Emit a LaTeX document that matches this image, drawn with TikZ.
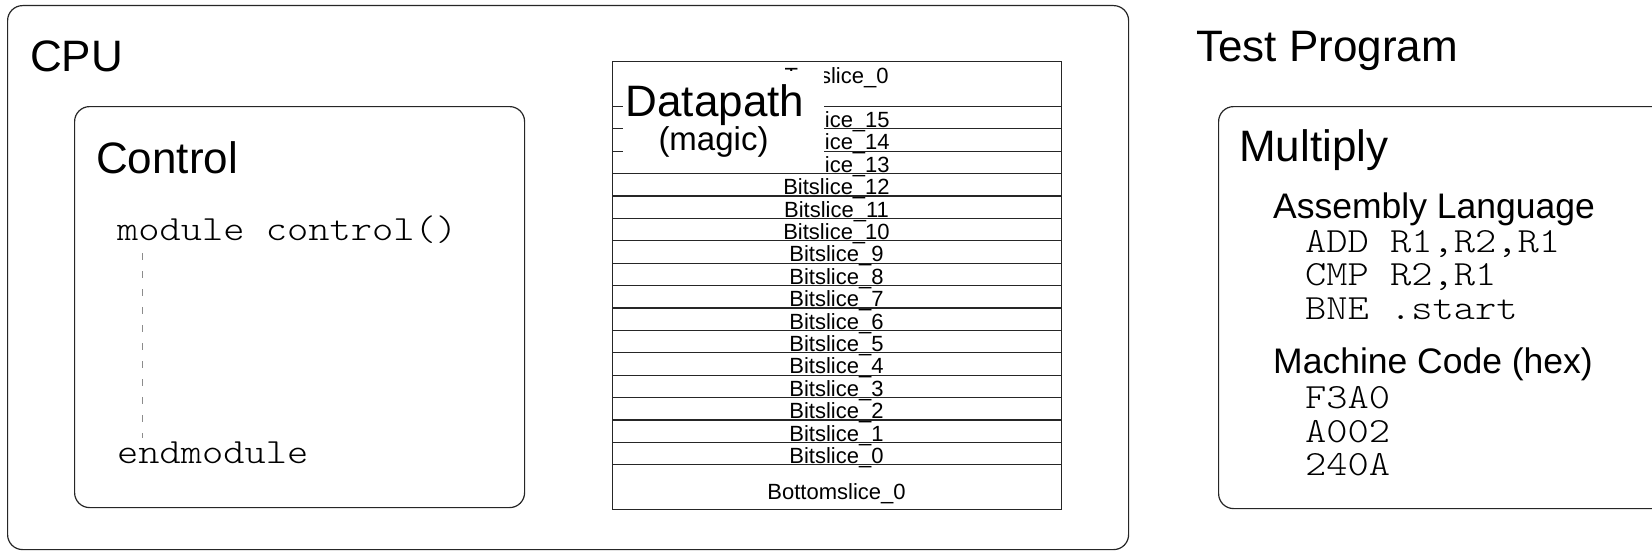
\documentclass[tikz,border=0pt]{standalone}
\usepackage{fontspec}
\setmainfont{Liberation Sans}
\setmonofont[FakeStretch=1.143]{Latin Modern Mono Light}
\begin{document}
\begin{tikzpicture}[x=1pt,y=-1pt,
  roundbox/.style={draw=black!85, line width=1.2pt, rounded corners=15pt, inner sep=0pt, anchor=north west},
  slicebox/.style={draw=black!85, line width=1.1pt, inner sep=0pt, anchor=north west, minimum width=449pt},
  titletxt/.style={anchor=base west, inner sep=0pt, font=\fontsize{44}{50}\selectfont},
  subtxt/.style={anchor=base west, inner sep=0pt, font=\fontsize{35.5}{40}\selectfont},
  codetxt/.style={anchor=base west, inner sep=0pt, font=\ttfamily\fontsize{35.4}{40}\selectfont},
  slicelbl/.style={anchor=base, inner sep=0pt, font=\fontsize{22}{26}\selectfont},
  dashline/.style={draw=black!45, line width=1pt, dash pattern=on 7pt off 11pt}
]
\fill[white] (0,0) rectangle (1652,551);
\clip (0,0) rectangle (1652,551);

% CPU
\node[roundbox, minimum width=1121pt, minimum height=544pt] (cpu) at (7,5) {};
\node[titletxt] (cputitle) at (30,72) {CPU};

% Control
\node[roundbox, minimum width=450pt, minimum height=401pt] (ctrl) at (74,106) {};
\node[titletxt] (ctrltitle) at (96,173) {Control};
\node[codetxt] (modline) at (117,240) {module control()};
\node[codetxt] (endline) at (117,463) {endmodule};
\coordinate (dtop) at (142,253);
\coordinate (dbot) at (142,438);
\draw[dashline] (dtop) -- (dbot);

% Datapath
\def\u{22.4}
\node[slicebox, minimum height=44.8pt] (topslice) at (612,61) {};
\node[slicelbl] (toplbl) at (836.5,83.5) {Topslice\_0};
\foreach \k in {15,...,0}{
  \pgfmathsetmacro{\ytop}{105.8+(15-\k)*\u}
  \pgfmathsetmacro{\ybot}{\ytop+\u-0.8}
  \node[slicebox, minimum height=22.4pt] (bs\k) at (612,\ytop) {};
  \node[slicelbl] (bslbl\k) at (836.5,\ybot) {Bitslice\_\k};
}
\node[slicebox, minimum height=44.8pt] (botslice) at (612,464.2) {};
\node[slicelbl] (botlbl) at (836.5,499) {Bottomslice\_0};

\node[fill=white, inner sep=0pt, anchor=north west, minimum width=201pt, minimum height=101.6pt] (dplabel) at (623,71) {};
\node[anchor=base, inner sep=0pt, font=\fontsize{44}{50}\selectfont] (dptitle) at (715,116) {Datapath};
\node[anchor=base, inner sep=0pt, font=\fontsize{33}{38}\selectfont] (dpmagic) at (713.5,150) {(magic)};

% Test Program
\node[titletxt] (tptitle) at (1196,62) {Test Program};
\node[roundbox, minimum width=482pt, minimum height=402pt] (mult) at (1218,106) {};
\node[titletxt] (multtitle) at (1239,161) {Multiply};
\node[subtxt] (asm) at (1273,218) {Assembly Language};
\node[codetxt] (c1) at (1305,252) {ADD R1,R2,R1};
\node[codetxt] (c2) at (1305,285) {CMP R2,R1};
\node[codetxt] (c3) at (1305,319) {BNE .start};
\node[subtxt] (mc) at (1273,373) {Machine Code (hex)};
\node[codetxt] (h1) at (1305,408) {F3A0};
\node[codetxt] (h2) at (1305,442) {A002};
\node[codetxt] (h3) at (1305,475) {240A};
\end{tikzpicture}
\end{document}
